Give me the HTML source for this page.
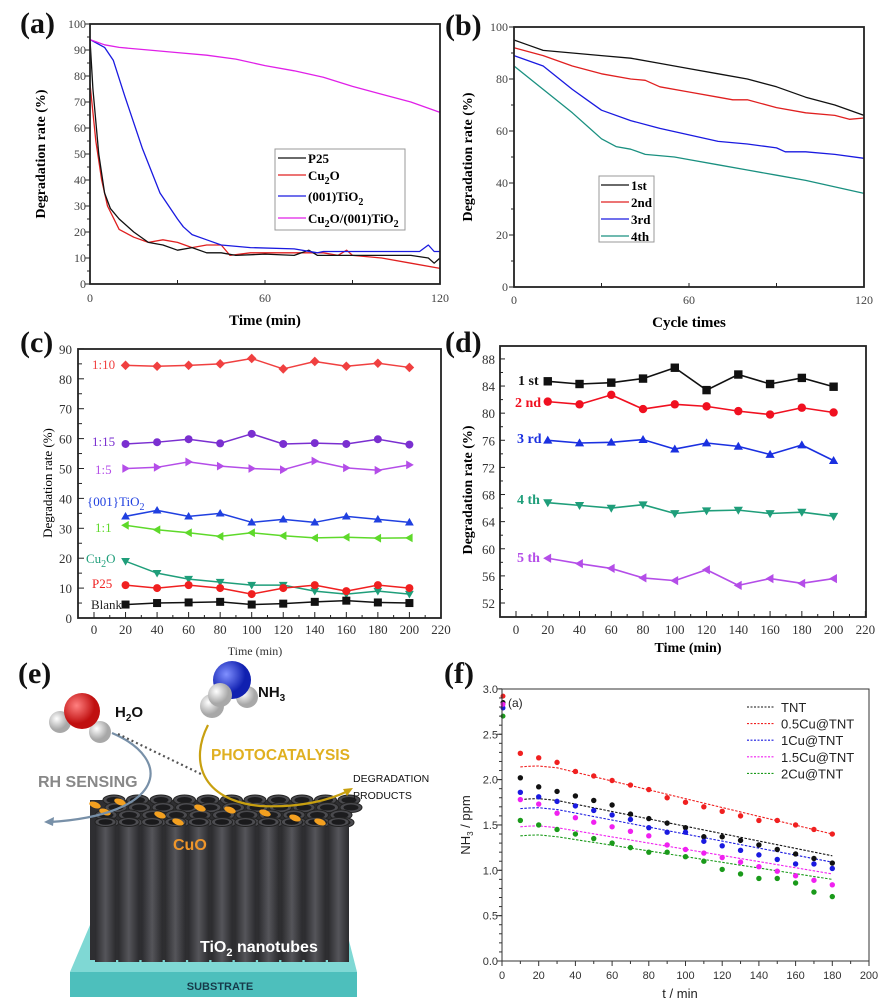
<!DOCTYPE html>
<html><head><meta charset="utf-8"><style>
body{margin:0;background:#fff;}
svg{display:block;}
text{font-family:"Liberation Serif",serif;}
.s{font-family:"Liberation Sans",sans-serif;}
</style></head><body>
<svg id="c" width="891" height="1006" viewBox="0 0 891 1006" xmlns="http://www.w3.org/2000/svg"></svg>
<script>
let s='';
const L=(x1,y1,x2,y2,c='#222',w=1)=>s+=`<line x1="${x1}" y1="${y1}" x2="${x2}" y2="${y2}" stroke="${c}" stroke-width="${w}"/>`;
const T=(x,y,t,a='')=>s+=`<text x="${x}" y="${y}" ${a}>${t}</text>`;
const P=(pts,c,w=1.3,d='')=>s+=`<polyline points="${pts.map(p=>p.join(',')).join(' ')}" fill="none" stroke="${c}" stroke-width="${w}" ${d?`stroke-dasharray="${d}"`:''} stroke-linejoin="round"/>`;
function M(t,x,y,c,r=4.5){
 if(t=='sq')s+=`<rect x="${x-r}" y="${y-r}" width="${2*r}" height="${2*r}" fill="${c}"/>`;
 else if(t=='ci')s+=`<circle cx="${x}" cy="${y}" r="${r}" fill="${c}"/>`;
 else{let p;
  if(t=='di')p=[[0,-r*1.2],[r*1.2,0],[0,r*1.2],[-r*1.2,0]];
  if(t=='up')p=[[0,-r*1.1],[r*1.1,r*.8],[-r*1.1,r*.8]];
  if(t=='dn')p=[[0,r*1.1],[r*1.1,-r*.8],[-r*1.1,-r*.8]];
  if(t=='lf')p=[[-r*1.1,0],[r*.8,-r*1.1],[r*.8,r*1.1]];
  if(t=='rt')p=[[r*1.1,0],[-r*.8,-r*1.1],[-r*.8,r*1.1]];
  s+=`<polygon points="${p.map(q=>(x+q[0])+','+(y+q[1])).join(' ')}" fill="${c}"/>`;}
}
const box=(x1,y1,x2,y2,w=1.8)=>s+=`<rect x="${x1}" y="${y1}" width="${x2-x1}" height="${y2-y1}" fill="none" stroke="#222" stroke-width="${w}"/>`;
// ---------- (a)
{const X=v=>90+v*2.9167,Y=v=>284-v*2.6;
const d={
'#e02020':[[0,77],[2,55],[4,40],[6,30],[10,21],[15,18],[20,16],[25,17],[30,16],[35,14],[40,15],[45,15],[48,11],[55,12],[65,12],[75,12],[80,12],[85,11],[88,13],[90,11],[100,10],[110,8],[120,6]],
'#111':[[0,94],[1,75],[3,50],[5,35],[7,29],[10,25],[15,20],[20,16],[25,15],[30,13],[35,14],[40,12],[45,12],[50,11],[60,11.5],[70,11],[75,13],[78,11],[90,11],[110,11],[116,10],[118,8],[120,10]],
'#1a1ae0':[[0,94],[5,91],[8,86],[12,72],[18,52],[24,35],[30,25],[32,22],[35,19],[40,17],[45,15],[55,14],[70,13.5],[78,12],[80,12.5],[100,12.5],[113,12.5],[116,15],[118,12.5],[120,12.5]],
'#e020e8':[[0,94],[5,92],[10,91],[20,90],[30,89],[40,88],[50,86.5],[60,84],[70,82],[80,79.5],[90,76],[100,73],[110,70],[120,66]]};
for(let c in d)P(d[c].map(p=>[X(p[0]),Y(p[1])]),c);
box(90,24,440,284);
for(let v=0;v<=100;v+=5){L(v%10?87:85,Y(v),90,Y(v));if(v%10==0)T(86,Y(v)+4,v,'font-size="12" text-anchor="end" fill="#444"');}
for(let v=0;v<=120;v+=30){L(X(v),284,X(v),280);}
[0,60,120].forEach(v=>T(X(v),302,v,'font-size="12" text-anchor="middle" fill="#444"'));
s+=`<rect x="275" y="149" width="130" height="81" fill="#fff" stroke="#999"/>`;
[['#111','P25'],['#e02020','Cu<tspan dy="4" font-size="10">2</tspan><tspan dy="-4">O</tspan>'],['#1a1ae0','(001)TiO<tspan dy="4" font-size="10">2</tspan>'],['#e020e8','Cu<tspan dy="4" font-size="10">2</tspan><tspan dy="-4">O/(001)TiO</tspan><tspan dy="4" font-size="10">2</tspan>']].forEach((e,i)=>{let y=[158,175,196,218][i];L(278,y,306,y,e[0],1.3);T(308,y+5,e[1],'font-size="13" font-weight="bold"');});
T(40,154,'Degradation rate (%)','font-size="14" font-weight="bold" text-anchor="middle" transform="rotate(-90 40 154)" dy="5"');
T(265,325,'Time (min)','font-size="15" font-weight="bold" text-anchor="middle"');
}
// ---------- (b)
{const X=v=>514+v*2.9167,Y=v=>287-v*2.6;
const d={
'#111':[[0,95],[5,93],[10,91],[20,90],[30,89],[40,88],[50,86],[60,84],[70,82],[80,80],[90,77],[100,73],[110,70],[120,66]],
'#e02020':[[0,92],[10,89],[20,85],[30,82],[40,80],[45,79.5],[50,77],[60,75],[70,73],[75,72],[80,72],[90,69],[100,67],[110,66],[115,64.5],[120,65]],
'#1a1ae0':[[0,89],[10,85],[20,76],[25,72],[30,68],[40,64],[50,61],[60,58.5],[70,56],[80,55],[90,53.5],[93,52],[100,52],[110,51],[120,49.5]],
'#1a9080':[[0,85],[10,76],[20,67],[30,57],[35,54],[40,53],[45,51],[55,50],[60,49],[70,47],[80,45],[90,43],[100,41],[110,38.5],[120,36]]};
for(let c in d)P(d[c].map(p=>[X(p[0]),Y(p[1])]),c);
box(514,27,864,287);
for(let v=0;v<=100;v+=10){L(v%20?511:509,Y(v),514,Y(v));if(v%20==0)T(508,Y(v)+4,v,'font-size="12" text-anchor="end" fill="#444"');}
for(let v=0;v<=120;v+=30){L(X(v),287,X(v),283);}
[0,60,120].forEach(v=>T(X(v),304,v,'font-size="12" text-anchor="middle" fill="#444"'));
s+=`<rect x="599" y="176" width="55" height="66" fill="#fff" stroke="#999"/>`;
[['#111','1st'],['#e02020','2nd'],['#1a1ae0','3rd'],['#1a9080','4th']].forEach((e,i)=>{let y=185+i*17;L(601,y,629,y,e[0],1.3);T(631,y+5,e[1],'font-size="13" font-weight="bold"');});
T(467,157,'Degradation rate (%)','font-size="14" font-weight="bold" text-anchor="middle" transform="rotate(-90 467 157)" dy="5"');
T(689,327,'Cycle times','font-size="15" font-weight="bold" text-anchor="middle"');
}
// ---------- (c)
{const X=v=>94+v*1.577,Y=v=>618-v*2.99;
const d=[
['#f04040','di',[84.5,84.2,84.5,85,86.8,83.3,85.8,84.2,85.2,83.8]],
['#7a2fd0','ci',[58.2,58.8,59.8,58.4,61.6,58.2,58.5,58.2,59.8,58]],
['#b44de8','rt',[50,50.4,52.2,50.8,50,49.6,52.5,50.2,49.4,51.2]],
['#2040e0','up',[34,36,34,35,32,33,32,34,33,32]],
['#5ed92a','lf',[31,29.5,28.5,27.3,28.5,27.5,26.8,27,26.7,26.8]],
['#1f9e7a','dn',[19,15,13,12,11,11,9,8,9,8]],
['#f02020','ci',[11,10,11,10,8,10,11,9,11,10]],
['#111','sq',[4.5,5,5.2,5.4,4.5,4.8,5.4,5.8,5.2,5]]];
d.forEach(e=>{let pts=e[2].map((v,i)=>[X(20+20*i),Y(v)]);P(pts,e[0],1.5);pts.forEach(p=>M(e[1],p[0],p[1],e[0],4));});
box(78,349,441,618);
for(let v=0;v<=90;v+=5){L(78,Y(v),v%10?82:84,Y(v));if(v%10==0)T(72,Y(v)+5,v,'font-size="13" text-anchor="end" fill="#333"');}
for(let v=0;v<=220;v+=10){L(X(v),618,X(v),v%20?615:612);if(v%20==0)T(X(v),634,v,'font-size="13" text-anchor="middle" fill="#333"');}
T(48,483,'Degradation rate (%)','font-size="13" text-anchor="middle" transform="rotate(-90 48 483)" dy="4"');
T(255,655,'Time (min)','font-size="12" text-anchor="middle" fill="#333"');
const lb=[[92,369,'1:10','#f04040'],[92,446,'1:15','#7a2fd0'],[95,474,'1:5','#b44de8'],[87,506,'{001}TiO<tspan dy="4" font-size="10">2</tspan>','#2040e0'],[95,532,'1:1','#5ed92a'],[86,563,'Cu<tspan dy="4" font-size="10">2</tspan><tspan dy="-4">O</tspan>','#1f9e7a'],[92,588,'P25','#f02020'],[91,609,'Blank','#222']];
lb.forEach(e=>T(e[0],e[1],e[2],`font-size="13" fill="${e[3]}"`));
}
// ---------- (d)
{const X=v=>516+v*1.588,Y=v=>603-(v-52)*6.78;
const d=[
['#111','sq',[84.7,84.3,84.5,85.1,86.7,83.4,85.7,84.3,85.2,83.9]],
['#f01020','ci',[81.7,81.3,82.7,80.6,81.3,81,80.3,79.8,80.8,80.1]],
['#1a30e0','up',[76,75.6,75.7,76.1,74.7,75.6,75.1,73.9,75.3,73]],
['#1f9e7a','dn',[66.8,66.4,66,66.5,65.2,65.6,65.7,65.2,65.4,64.8]],
['#b44de8','lf',[58.6,57.8,57.1,55.7,55.3,56.9,54.6,55.6,54.9,55.6]]];
d.forEach(e=>{let pts=e[2].map((v,i)=>[X(20+20*i),Y(v)]);P(pts,e[0],1.6);pts.forEach(p=>M(e[1],p[0],p[1],e[0],4.2));});
box(500,346,866,617);
for(let v=52;v<=88;v+=2){L(500,Y(v),v%4?503:505,Y(v));if(v%4==0)T(495,Y(v)+5,v,'font-size="13" text-anchor="end" fill="#333"');}
for(let v=0;v<=220;v+=10){L(X(v),617,X(v),v%20?614:611);if(v%20==0)T(X(v),634,v,'font-size="13" text-anchor="middle" fill="#333"');}
T(467,490,'Degradation rate (%)','font-size="14" font-weight="bold" text-anchor="middle" transform="rotate(-90 467 490)" dy="5"');
T(688,652,'Time (min)','font-size="14" font-weight="bold" text-anchor="middle"');
[[518,385,'1 st','#111'],[515,407,'2 nd','#f01020'],[517,443,'3 rd','#1a30e0'],[517,504,'4 th','#1f9e7a'],[517,562,'5 th','#b44de8']].forEach(e=>T(e[0],e[1],e[2],`font-size="14" font-weight="bold" fill="${e[3]}"`));
}
// ---------- (f)
{const X=v=>502+v*1.835,Y=v=>961-v*90.7;
const cs=['#111','#f02020','#1a1ae0','#f020f0','#1a9a1a'];
const pts=[
[2.02,1.92,1.87,1.82,1.77,1.72,1.62,1.57,1.52,1.47,1.37,1.37,1.33,1.28,1.23,1.18,1.13,1.08],
[2.29,2.24,2.19,2.09,2.04,1.99,1.94,1.89,1.80,1.75,1.70,1.65,1.60,1.55,1.55,1.50,1.45,1.40],
[1.86,1.81,1.76,1.71,1.66,1.61,1.56,1.47,1.42,1.42,1.32,1.27,1.22,1.17,1.12,1.07,1.07,1.02],
[1.78,1.73,1.63,1.58,1.53,1.48,1.43,1.38,1.28,1.23,1.19,1.14,1.09,1.04,0.99,0.94,0.89,0.84],
[1.55,1.50,1.45,1.40,1.35,1.30,1.25,1.20,1.20,1.15,1.10,1.01,0.96,0.91,0.91,0.86,0.76,0.71]];
const fit=[[1.78,1.79,1.16],[2.14,2.15,1.40],[1.68,1.69,1.09],[1.48,1.49,0.96],[1.38,1.39,0.90]];
const z=[2.85,2.92,2.79,2.83,2.7];
fit.forEach((f,i)=>{let a=[[X(10),Y(f[0])],[X(15),Y(f[1]-0.003)],[X(20),Y(f[1])],[X(30),Y(f[1]-0.02)]];for(let t=40;t<=180;t+=10)a.push([X(t),Y(f[1]-0.02+(f[2]-f[1]+0.02)*(t-30)/150)]);P(a,cs[i],1.1,'2.5,1.5');});
pts.forEach((p,i)=>{p.forEach((v,j)=>M('ci',X(10+10*j),Y(v),cs[i],2.7));M('ci',X(0)+1,Y(z[i]),cs[i],2.5);});
s+=`<rect x="502" y="689" width="367" height="272" fill="none" stroke="#333" stroke-width="1"/>`;
for(let v=0;v<=3.001;v+=0.1){let r=Math.round(v*10);L(499,Y(v),502,Y(v),'#333');if(r%5==0){L(497,Y(v),502,Y(v),'#333');T(498,Y(v)+4,(r/10).toFixed(1),'class="s" font-size="11" text-anchor="end" fill="#333"');}}
for(let v=0;v<=200;v+=10){L(X(v),961,X(v),v%20?964:966,'#333');if(v%20==0)T(X(v),979,v,'class="s" font-size="11" text-anchor="middle" fill="#333"');}
T(680,998,'t / min','class="s" font-size="13" text-anchor="middle" fill="#222"');
T(466,825,'NH<tspan dy="3" font-size="8">3</tspan><tspan dy="-3"> / ppm</tspan>','class="s" font-size="13" text-anchor="middle" fill="#222" transform="rotate(-90 466 825)" dy="4"');
T(508,707,'(a)','class="s" font-size="12" fill="#222"');
['TNT','0.5Cu@TNT','1Cu@TNT','1.5Cu@TNT','2Cu@TNT'].forEach((t,i)=>{let y=707+i*16.6;L(747,y,774,y,cs[i],1.1);s=s.replace(/<line([^>]*)\/>$/,'<line$1 stroke-dasharray="2,1.5"/>');T(781,y+5,t,'class="s" font-size="13" fill="#222"');});
}
// ---------- (e) illustration
s+=`<defs>
<radialGradient id="rg" cx="35%" cy="35%"><stop offset="0" stop-color="#ff8080"/><stop offset="1" stop-color="#c01010"/></radialGradient>
<radialGradient id="bg" cx="35%" cy="35%"><stop offset="0" stop-color="#8090ff"/><stop offset="1" stop-color="#1020b0"/></radialGradient>
<radialGradient id="wg" cx="35%" cy="35%"><stop offset="0" stop-color="#fff"/><stop offset="1" stop-color="#a8a8a8"/></radialGradient>
<linearGradient id="tg" x1="0" x2="1"><stop offset="0" stop-color="#2b2b2e"/><stop offset=".5" stop-color="#55555a"/><stop offset="1" stop-color="#2b2b2e"/></linearGradient>
</defs>`;
// substrate
s+=`<polygon points="90,925 345,925 357,972 70,972" fill="#7fd8d4"/><rect x="70" y="972" width="287" height="25" fill="#4dbfbc"/>`;
T(220,990,'SUBSTRATE','class="s" font-size="11" font-weight="bold" text-anchor="middle" fill="#163a4a"');
// tubes
s+=`<rect x="90" y="800" width="255" height="160" fill="#2e2e31"/>`;
for(let r=0;r<4;r++){let y=800+r*7.5,x0=92+ (3-r)*4;for(let k=0;k<11;k++){let x=x0+k*23.5+(r%2)*6;s+=`<ellipse cx="${x+10}" cy="${y}" rx="11" ry="5" fill="#4a4a4e" stroke="#222" stroke-width="1"/><ellipse cx="${x+10}" cy="${y}" rx="7.5" ry="3" fill="#1c1c1e"/>`;}}
for(let k=0;k<11;k++){let x=95+k*23.3;s+=`<rect x="${x}" y="822" width="21" height="140" fill="url(#tg)"/><ellipse cx="${x+10.5}" cy="822" rx="10.5" ry="4.5" fill="#4c4c50" stroke="#222"/><ellipse cx="${x+10.5}" cy="822" rx="7" ry="2.8" fill="#1a1a1c"/>`;}
[[95,805],[120,802],[160,815],[178,822],[230,810],[265,813],[295,818],[320,822],[105,812],[200,808]].forEach(p=>s+=`<ellipse cx="${p[0]}" cy="${p[1]}" rx="6" ry="3" fill="#f3a020" transform="rotate(20 ${p[0]} ${p[1]})"/>`);
T(173,850,'CuO','class="s" font-size="16" font-weight="bold" fill="#f0962a"');
T(200,952,'TiO<tspan dy="4" font-size="11">2</tspan><tspan dy="-4"> nanotubes</tspan>','class="s" font-size="16" font-weight="bold" fill="#fff"');
// arrows
s+=`<path d="M112,733 C175,760 165,815 50,822" fill="none" stroke="#7890a8" stroke-width="2.2"/><polygon points="44,822 54,817 53,826" fill="#7890a8"/>`;
s+=`<path d="M118,734 L203,775" stroke="#555" stroke-width="2.2" stroke-dasharray="2,3"/>`;
s+=`<path d="M208,725 C190,760 200,800 260,806 C300,808 330,800 348,791" fill="none" stroke="#c8a010" stroke-width="2.2"/><polygon points="353,788 343,789 347,796" fill="#c8a010"/>`;
T(38,787,'RH SENSING','class="s" font-size="16" font-weight="bold" fill="#888"');
T(211,760,'PHOTOCATALYSIS','class="s" font-size="15.5" font-weight="bold" fill="#e0b020"');
T(353,782,'DEGRADATION','class="s" font-size="10.5" fill="#111"');T(353,799,'PRODUCTS','class="s" font-size="10.5" fill="#111"');
// molecules
s+=`<circle cx="60" cy="722" r="11" fill="url(#wg)"/><circle cx="100" cy="732" r="11" fill="url(#wg)"/><circle cx="82" cy="711" r="18" fill="url(#rg)"/>`;
s+=`<circle cx="212" cy="706" r="12" fill="url(#wg)"/><circle cx="247" cy="697" r="11" fill="url(#wg)"/><circle cx="232" cy="680" r="19" fill="url(#bg)"/><circle cx="220" cy="695" r="12" fill="url(#wg)"/>`;
T(115,717,'H<tspan dy="4" font-size="10">2</tspan><tspan dy="-4">O</tspan>','class="s" font-size="15" font-weight="bold" fill="#111"');
T(258,697,'NH<tspan dy="4" font-size="10">3</tspan>','class="s" font-size="15" font-weight="bold" fill="#111"');
// panel letters
[['(a)',20,33],['(b)',445,35],['(c)',20,352],['(d)',445,352],['(e)',18,683],['(f)',444,683]].forEach(e=>T(e[1],e[2],e[0],'font-size="30" font-weight="bold" fill="#111"'));
document.getElementById('c').innerHTML=s;
</script>
</body></html>
